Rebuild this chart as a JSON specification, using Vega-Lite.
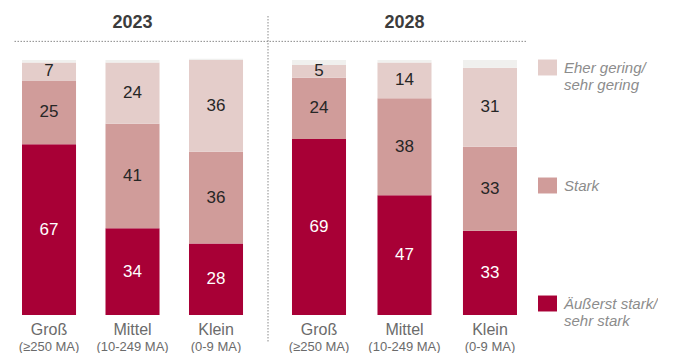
{
  "$schema": "https://vega.github.io/schema/vega-lite/v6.json",
  "padding": {"left": 12, "top": 14, "right": 0, "bottom": 0},
  "background": "white",
  "config": {"font": "Liberation Sans", "view": {"stroke": null}},
  "data": {"values": [
    {"year": "2023", "size": "Groß", "segment": "Äußerst stark/ sehr stark", "value": 67},
    {"year": "2023", "size": "Groß", "segment": "Stark", "value": 25},
    {"year": "2023", "size": "Groß", "segment": "Eher gering/ sehr gering", "value": 7},
    {"year": "2023", "size": "Groß", "segment": "(keine Angabe)", "value": 1},
    {"year": "2023", "size": "Mittel", "segment": "Äußerst stark/ sehr stark", "value": 34},
    {"year": "2023", "size": "Mittel", "segment": "Stark", "value": 41},
    {"year": "2023", "size": "Mittel", "segment": "Eher gering/ sehr gering", "value": 24},
    {"year": "2023", "size": "Mittel", "segment": "(keine Angabe)", "value": 1},
    {"year": "2023", "size": "Klein", "segment": "Äußerst stark/ sehr stark", "value": 28},
    {"year": "2023", "size": "Klein", "segment": "Stark", "value": 36},
    {"year": "2023", "size": "Klein", "segment": "Eher gering/ sehr gering", "value": 36},
    {"year": "2023", "size": "Klein", "segment": "(keine Angabe)", "value": 0.5},
    {"year": "2028", "size": "Groß", "segment": "Äußerst stark/ sehr stark", "value": 69},
    {"year": "2028", "size": "Groß", "segment": "Stark", "value": 24},
    {"year": "2028", "size": "Groß", "segment": "Eher gering/ sehr gering", "value": 5},
    {"year": "2028", "size": "Groß", "segment": "(keine Angabe)", "value": 2},
    {"year": "2028", "size": "Mittel", "segment": "Äußerst stark/ sehr stark", "value": 47},
    {"year": "2028", "size": "Mittel", "segment": "Stark", "value": 38},
    {"year": "2028", "size": "Mittel", "segment": "Eher gering/ sehr gering", "value": 14},
    {"year": "2028", "size": "Mittel", "segment": "(keine Angabe)", "value": 1},
    {"year": "2028", "size": "Klein", "segment": "Äußerst stark/ sehr stark", "value": 33},
    {"year": "2028", "size": "Klein", "segment": "Stark", "value": 33},
    {"year": "2028", "size": "Klein", "segment": "Eher gering/ sehr gering", "value": 31},
    {"year": "2028", "size": "Klein", "segment": "(keine Angabe)", "value": 3}
  ]},
  "spacing": 0,
  "bounds": "flush",
  "resolve": {"scale": {"x": "independent", "y": "independent", "color": "shared"}},
  "hconcat": [
    {
      "width": 255,
      "height": 326,
      "transform": [{"filter": "datum.year == '2023'"}],
      "resolve": {"axis": {"x": "independent"}},
      "layer": [
        {
          "mark": {"type": "bar"},
          "encoding": {
            "x": {"field": "size", "type": "nominal",
              "scale": {"domain": ["Groß", "Mittel", "Klein"], "paddingInner": 0.353, "paddingOuter": 0.2035, "align": 0.265},
              "axis": {"orient": "bottom", "title": null, "domain": false, "ticks": false, "tickSize": 0, "labelAngle": 0, "labelFontSize": 16, "labelColor": "#6b6b6b", "labelPadding": 6, "offset": -27}},
            "y": {"field": "value", "type": "quantitative", "stack": "zero",
              "scale": {"domain": [-10.59, 117.25], "nice": false, "zero": false}, "axis": null},
            "color": {"field": "segment", "type": "nominal",
              "scale": {"domain": ["Eher gering/ sehr gering", "Stark", "Äußerst stark/ sehr stark", "(keine Angabe)"],
                        "range": ["#E4CDCA", "#D09C9A", "#A80036", "#F0F0EE"]},
              "legend": {"title": null, "orient": "none", "legendX": 525, "legendY": 42,
                "values": ["Eher gering/ sehr gering", "Stark", "Äußerst stark/ sehr stark"],
                "symbolType": "M-1,-0.84H1V0.84H-1Z", "symbolSize": 361, "symbolStrokeWidth": 0, "symbolOpacity": 1,
                "labelFontSize": 15, "labelFontStyle": "italic", "labelColor": "#8c8c8c", "labelOffset": 7,
                "labelLimit": 200, "rowPadding": 83, "labelBaseline": "middle",
                "labelExpr": "indexof(datum.label, '/ ') > 0 ? [slice(datum.label, 0, indexof(datum.label, '/ ') + 1), slice(datum.label, indexof(datum.label, '/ ') + 2)] : [datum.label, ' ']"}},
            "order": {"field": "segment", "sort": "descending"}
          }
        },
        {
          "transform": [{"filter": "datum.segment != '(keine Angabe)'"}],
          "mark": {"type": "text", "fontSize": 17},
          "encoding": {
            "x": {"field": "size", "type": "nominal",
              "axis": {"orient": "bottom", "title": null, "domain": false, "ticks": false, "tickSize": 0, "labelAngle": 0, "labelFontSize": 13, "labelColor": "#6b6b6b", "labelPadding": 25, "offset": -27,
                "labelExpr": "datum.value == 'Groß' ? '(≥250 MA)' : datum.value == 'Mittel' ? '(10-249 MA)' : '(0-9 MA)'"}},
            "y": {"field": "value", "type": "quantitative", "stack": "zero", "bandPosition": 0.5, "axis": null},
            "detail": {"field": "segment"},
            "order": {"field": "segment", "sort": "descending"},
            "text": {"field": "value", "type": "quantitative"},
            "color": {"condition": {"test": "datum.segment == 'Äußerst stark/ sehr stark'", "value": "#ffffff"}, "value": "#262626"}
          }
        },
        {
          "data": {"values": [{}]},
          "mark": {"type": "rule", "strokeDash": [1.5, 1.5], "color": "#8a8a8a", "strokeWidth": 1},
          "encoding": {"y": {"datum": 107.3, "axis": null}}
        },
        {
          "data": {"values": [{}]},
          "mark": {"type": "text", "fontSize": 18, "fontWeight": "bold", "color": "#3c3c3c", "baseline": "alphabetic"},
          "encoding": {
            "x": {"datum": "Mittel", "axis": null},
            "y": {"datum": 112.5, "axis": null},
            "text": {"value": "2023"}
          }
        }
      ]
    },
    {
      "width": 258,
      "height": 326,
      "transform": [{"filter": "datum.year == '2028'"}],
      "resolve": {"axis": {"x": "independent"}},
      "layer": [
        {
          "mark": {"type": "bar"},
          "encoding": {
            "x": {"field": "size", "type": "nominal",
              "scale": {"domain": ["Groß", "Mittel", "Klein"], "paddingInner": 0.368, "paddingOuter": 0.193, "align": 0.727},
              "axis": {"orient": "bottom", "title": null, "domain": false, "ticks": false, "tickSize": 0, "labelAngle": 0, "labelFontSize": 16, "labelColor": "#6b6b6b", "labelPadding": 6, "offset": -27}},
            "y": {"field": "value", "type": "quantitative", "stack": "zero",
              "scale": {"domain": [-10.59, 117.25], "nice": false, "zero": false}, "axis": null},
            "color": {"field": "segment", "type": "nominal"},
            "order": {"field": "segment", "sort": "descending"}
          }
        },
        {
          "transform": [{"filter": "datum.segment != '(keine Angabe)'"}],
          "mark": {"type": "text", "fontSize": 17},
          "encoding": {
            "x": {"field": "size", "type": "nominal",
              "axis": {"orient": "bottom", "title": null, "domain": false, "ticks": false, "tickSize": 0, "labelAngle": 0, "labelFontSize": 13, "labelColor": "#6b6b6b", "labelPadding": 25, "offset": -27,
                "labelExpr": "datum.value == 'Groß' ? '(≥250 MA)' : datum.value == 'Mittel' ? '(10-249 MA)' : '(0-9 MA)'"}},
            "y": {"field": "value", "type": "quantitative", "stack": "zero", "bandPosition": 0.5, "axis": null},
            "detail": {"field": "segment"},
            "order": {"field": "segment", "sort": "descending"},
            "text": {"field": "value", "type": "quantitative"},
            "color": {"condition": {"test": "datum.segment == 'Äußerst stark/ sehr stark'", "value": "#ffffff"}, "value": "#262626"}
          }
        },
        {
          "data": {"values": [{}]},
          "mark": {"type": "rule", "strokeDash": [1.5, 1.5], "color": "#8a8a8a", "strokeWidth": 1},
          "encoding": {"y": {"datum": 107.3, "axis": null}}
        },
        {
          "data": {"values": [{}]},
          "mark": {"type": "rule", "strokeDash": [1.5, 1.5], "color": "#8a8a8a", "strokeWidth": 1},
          "encoding": {"x": {"value": 0}, "y": {"datum": 117.25, "axis": null}, "y2": {"datum": -10.59}}
        },
        {
          "data": {"values": [{}]},
          "mark": {"type": "text", "fontSize": 18, "fontWeight": "bold", "color": "#3c3c3c", "baseline": "alphabetic"},
          "encoding": {
            "x": {"datum": "Mittel", "axis": null},
            "y": {"datum": 112.5, "axis": null},
            "text": {"value": "2028"}
          }
        }
      ]
    }
  ]
}
